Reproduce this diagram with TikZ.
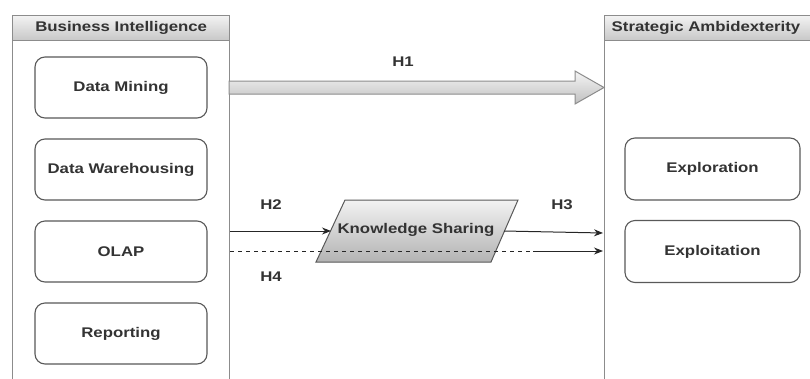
\documentclass[tikz,border=0pt]{standalone}
\usepackage{fontspec}
\setmainfont{Liberation Sans}[FakeStretch=1.2]
\usetikzlibrary{arrows.meta}
\begin{document}
\begin{tikzpicture}[x=1pt,y=-1pt,
  lbl/.style={font=\fontsize{14}{16}\selectfont\bfseries,text=black!80},
  box/.style={lbl,draw=black!65,line width=1.1pt,rounded corners=10pt,fill=white,
    minimum width=172pt,minimum height=61pt,inner sep=0pt},
  cont/.style={draw=black!45,line width=1.4pt,fill=white,anchor=north west,inner sep=0pt},
  hdr/.style={lbl,draw=black!45,line width=1.4pt,top color=black!5,bottom color=black!22,
    anchor=north west,inner sep=0pt,minimum height=25pt},
  conn/.style={draw=black!85,line width=1pt,-{Stealth[length=9pt,width=7pt]}},
  dconn/.style={draw=black!85,line width=1pt,dash pattern=on 4pt off 4pt}
]
\useasboundingbox (0,0) rectangle (810,378);
\clip (0,0) rectangle (810,378);
% containers
\node[cont,minimum width=217pt,minimum height=380pt] (bi) at (12,15) {};
\node[hdr,minimum width=217pt] (bih) at (12,15) {Business Intelligence};
\node[cont,minimum width=220pt,minimum height=380pt] (sa) at (604,15) {};
\node[hdr,minimum width=220pt,text width=206pt,align=left] (sah) at (604,15) {Strategic Ambidexterity};
% left boxes
\node[box] (dm) at (121,87.5) {Data Mining};
\node[box] (dw) at (121,169.5) {Data Warehousing};
\node[box] (olap) at (121,251.5) {OLAP};
\node[box] (rep) at (121,333.5) {Reporting};
% right boxes
\node[box,minimum width=175pt,minimum height=62pt] (expr) at (712.5,169) {Exploration};
\node[box,minimum width=175pt,minimum height=62pt] (expt) at (712.5,251.5) {Exploitation};
% H1 block arrow
\path[draw=black!45,line width=1pt,top color=black!4,bottom color=black!25]
  (229,81) -- (575,81) -- (575,71) -- (604,87.5) -- (575,104) -- (575,94) -- (229,94) -- cycle;
\node[lbl] (h1) at (403,62) {H1};
% knowledge sharing parallelogram
\path[draw=black!65,line width=1pt,top color=black!5,bottom color=black!30]
  (345,200) -- (518,200) -- (491,262) -- (316,262) -- cycle;
\node[lbl] (ks) at (416,230) {Knowledge Sharing};
\coordinate (ksw) at (331,231);
\coordinate (kse) at (504,231);
\coordinate (h2s) at (230,231);
\coordinate (h3e) at (603,233);
\coordinate (h4s) at (230,251);
\coordinate (h4m) at (530,251);
\coordinate (h4n) at (533,251);
\coordinate (h4e) at (603,251);
\draw[conn] (h2s) -- (ksw);
\draw[conn] (kse) -- (h3e);
\draw[dconn] (h4s) -- (h4m);
\draw[conn] (h4n) -- (h4e);
\node[lbl] (h2) at (271,205) {H2};
\node[lbl] (h3) at (562,205) {H3};
\node[lbl] (h4) at (271,277) {H4};
\end{tikzpicture}
\end{document}
